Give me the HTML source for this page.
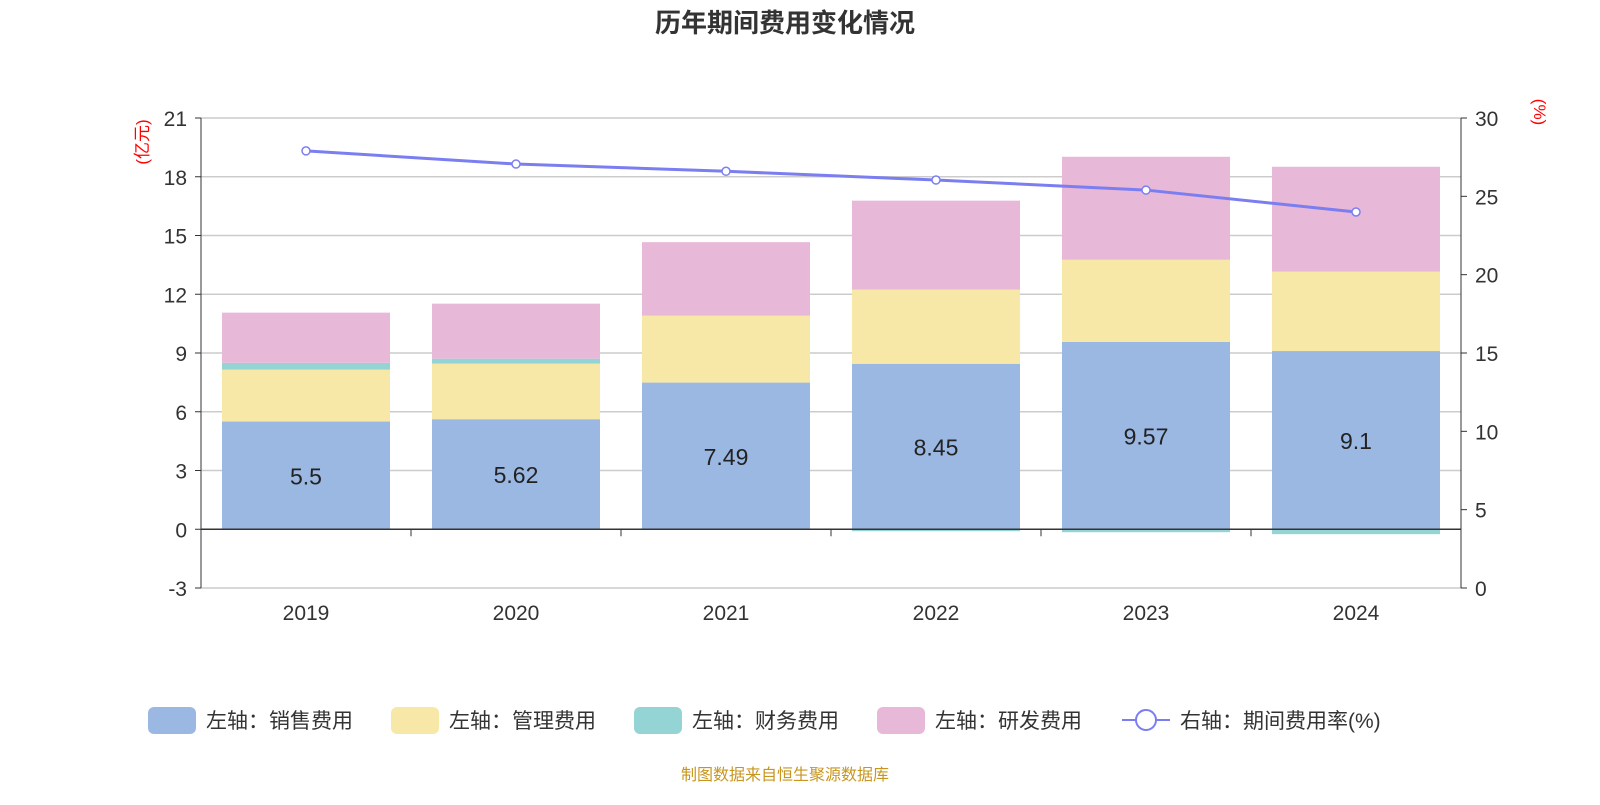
<!DOCTYPE html>
<html><head><meta charset="utf-8"><style>
body{margin:0;width:1600px;height:800px;background:#fff;overflow:hidden;font-family:"Liberation Sans","Noto Sans CJK SC",sans-serif}
</style></head><body>
<svg id="c" width="1600" height="800" font-family="Liberation Sans, Noto Sans CJK SC, sans-serif"></svg>
<script>
const categories=["2019","2020","2021","2022","2023","2024"];
const sales=[5.5,5.62,7.49,8.45,9.57,9.1];
const mgmt=[2.65,2.84,3.41,3.79,4.19,4.05];
const fin=[0.35,0.25,0.02,-0.1,-0.15,-0.25];
const rnd=[2.56,2.81,3.74,4.54,5.26,5.36];
const rate=[27.9,27.06,26.6,26.04,25.4,24.0];
const leftTicks=[-3,0,3,6,9,12,15,18,21];
const rightTicks=[0,5,10,15,20,25,30];

const svg=document.getElementById('c');const NS='http://www.w3.org/2000/svg';
function mk(t,a,p){const e=document.createElementNS(NS,t);for(const k in a)e.setAttribute(k,a[k]);(p||svg).appendChild(e);return e;}
const X0=201,X1=1461,YT=118,YB=588;
const yL=v=>YB-(v+3)/24*(YB-YT);
const yR=v=>YB-v/30*(YB-YT);
const bw=(X1-X0)/categories.length;
const xC=i=>X0+bw*(i+0.5);

let t=mk('text',{x:785,y:32,'text-anchor':'middle','font-size':26,'font-weight':'bold',fill:'#333'});t.textContent='历年期间费用变化情况';


leftTicks.forEach(v=>{
 const g=mk('line',{x1:X0,x2:X1,y1:yL(v),y2:yL(v),stroke:'#ccc','stroke-width':1.5});
 
 mk('line',{x1:X0-6,x2:X0,y1:yL(v),y2:yL(v),stroke:'#333'});
 const l=mk('text',{x:X0-14,y:yL(v)+8,'text-anchor':'end','font-size':21,fill:'#333'});l.textContent=v;
 
});
rightTicks.forEach(v=>{
 mk('line',{x1:X1,x2:X1+6,y1:yR(v),y2:yR(v),stroke:'#333'});
 const l=mk('text',{x:X1+14,y:yR(v)+8,'font-size':21,fill:'#333'});l.textContent=v;
 
});
mk('line',{x1:X0,x2:X0,y1:YT,y2:YB,stroke:'#333'});
mk('line',{x1:X1,x2:X1,y1:YT,y2:YB,stroke:'#333'});
let u=mk('text',{transform:'translate(148,142) rotate(-90)','text-anchor':'middle','font-size':17,fill:'red'});u.textContent='(亿元)';

u=mk('text',{transform:'translate(1534,112) rotate(90)','text-anchor':'middle','font-size':17,fill:'red'});u.textContent='(%)';


const cols={sales:'#9bb8e2',mgmt:'#f8e8a8',fin:'#94d4d4',rnd:'#e8b8d8'};
function rect(i,a,b,c,name){
 const y1=yL(Math.max(a,b)),y2=yL(Math.min(a,b));
 const r=mk('rect',{x:xC(i)-84,y:y1,width:168,height:Math.max(y2-y1,0),fill:c});
 
}
categories.forEach((c,i)=>{
 let pos=0;
 rect(i,pos,pos+sales[i],cols.sales,'bar-sales-'+c);pos+=sales[i];
 rect(i,pos,pos+mgmt[i],cols.mgmt,'bar-mgmt-'+c);pos+=mgmt[i];
 if(fin[i]>=0){rect(i,pos,pos+fin[i],cols.fin,'bar-finance-'+c);pos+=fin[i];}
 else rect(i,0,fin[i],cols.fin,'bar-finance-'+c);
 rect(i,pos,pos+rnd[i],cols.rnd,'bar-rnd-'+c);
 const l=mk('text',{x:xC(i),y:yL(sales[i]/2)+9,'text-anchor':'middle','font-size':23,fill:'#222'});l.textContent=sales[i];
 
 const xl=mk('text',{x:xC(i),y:620,'text-anchor':'middle','font-size':21,fill:'#333'});xl.textContent=c;
 
});
mk('line',{x1:X0,x2:X1,y1:yL(0),y2:yL(0),stroke:'#333','stroke-width':1.5});
for(let i=1;i<categories.length;i++)mk('line',{x1:X0+bw*i,x2:X0+bw*i,y1:yL(0),y2:yL(0)+7,stroke:'#333'});
const pl=mk('polyline',{points:rate.map((v,i)=>xC(i)+','+yR(v)).join(' '),fill:'none',stroke:'#7b7ef0','stroke-width':3});

rate.forEach((v,i)=>{const p=mk('circle',{cx:xC(i),cy:yR(v),r:4,fill:'#fff',stroke:'#7b7ef0','stroke-width':1.5});
 });

const leg=[['左轴：销售费用',cols.sales,148],['左轴：管理费用',cols.mgmt,391],['左轴：财务费用',cols.fin,634],['左轴：研发费用',cols.rnd,877]];
leg.forEach(([n,c,x])=>{
 const g=mk('g',{});
 mk('rect',{x:x,y:707,width:48,height:27,rx:6,fill:c},g);
 const tt=mk('text',{x:x+58,y:728,'font-size':21,fill:'#333'},g);tt.textContent=n;
});
const g=mk('g',{});
mk('line',{x1:1122,x2:1170,y1:720,y2:720,stroke:'#7b7ef0','stroke-width':2},g);
mk('circle',{cx:1146,cy:720,r:10,fill:'#fff',stroke:'#7b7ef0','stroke-width':2},g);
const tt=mk('text',{x:1180,y:728,'font-size':21,fill:'#333'},g);tt.textContent='右轴：期间费用率(%)';
const s=mk('text',{x:785,y:780,'text-anchor':'middle','font-size':16,fill:'#c8961e'});s.textContent='制图数据来自恒生聚源数据库';

</script>
</body></html>
